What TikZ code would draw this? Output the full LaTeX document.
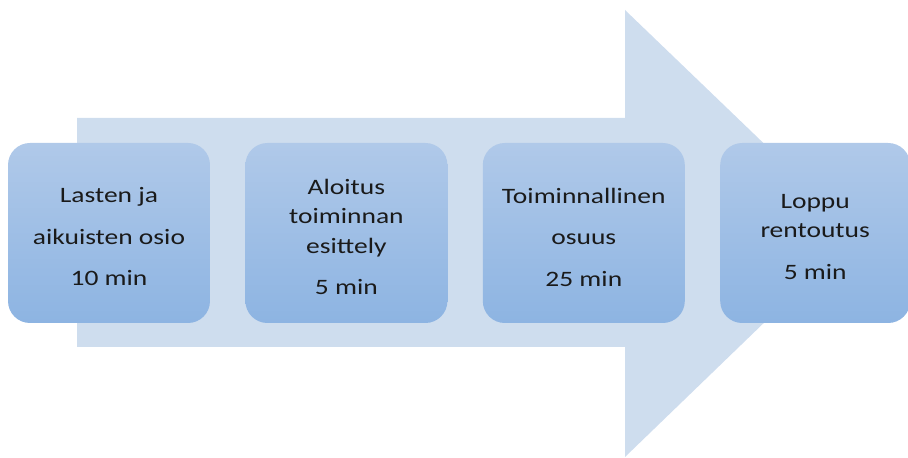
\documentclass[tikz,border=0pt]{standalone}
\usepackage{fontspec}
\setmainfont{Carlito}[FakeStretch=1.25]
\usetikzlibrary{positioning}
\definecolor{arrowblue}{HTML}{CEDDEE}
\definecolor{boxtop}{HTML}{B0C9E9}
\definecolor{boxbottom}{HTML}{8DB4E2}
\definecolor{textdark}{HTML}{1A1A1A}

\begin{document}
\begin{tikzpicture}[x=1pt,y=1pt,node distance=35pt,
    phase/.style={rounded corners=22pt,top color=boxtop,bottom color=boxbottom,
      minimum width=202pt,minimum height=180pt,inner sep=0pt},
    phasetext/.style={align=center,text=textdark,inner sep=0pt,
      font=\fontsize{22}{29.5}\selectfont}]
    \useasboundingbox (0,0) rectangle (908,458);
    \fill[arrowblue] (77,340) -- (625,340) -- (625,448) -- (857,225)
      -- (625,1) -- (625,111) -- (77,111) -- cycle;
    % phase boxes
    \node[phase] (P1) at (109,225) {};
    \node[phase] (P2) [right=of P1] {};
    \node[phase] (P3) [right=of P2] {};
    \node[phase,minimum width=190pt] (P4) [right=of P3] {};
    % texts
    \node[phasetext] (T1) at ([yshift=-4pt]P1.center) {Lasten ja\\[12pt]aikuisten osio\\[12pt]10 min};
    \node[phasetext] (T2) at ([yshift=-4pt]P2.center) {Aloitus\\toiminnan\\esittely\\[12pt]5 min};
    \node[phasetext] (T3) at ([yshift=-4pt]P3.center) {Toiminnallinen\\[12pt]osuus\\[12pt]25 min};
    \node[phasetext] (T4) at ([yshift=-4pt]P4.center) {Loppu\\rentoutus\\[12pt]5 min};
\end{tikzpicture}
\end{document}
